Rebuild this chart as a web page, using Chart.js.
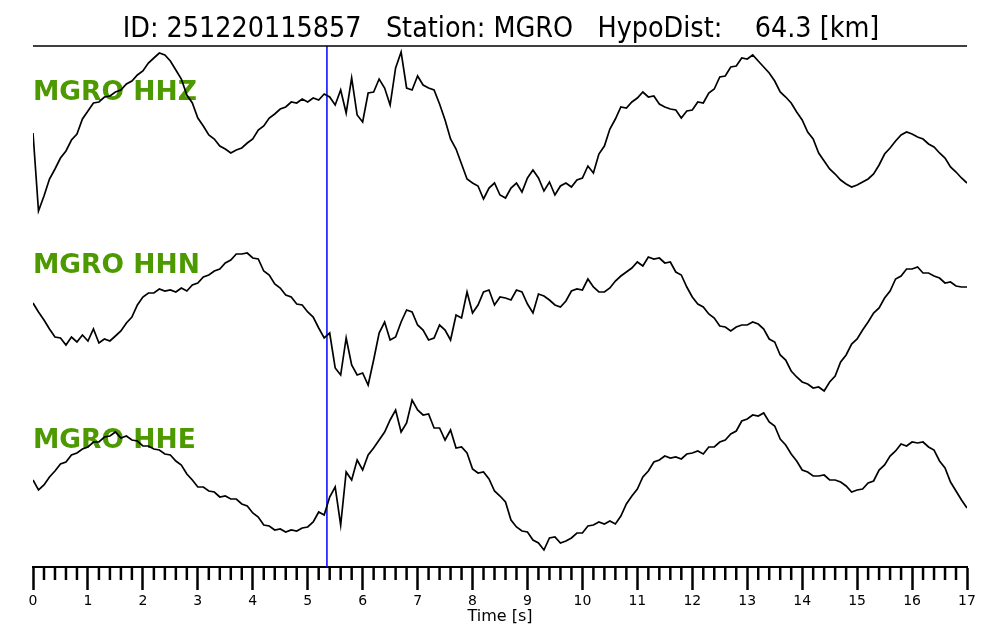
<!DOCTYPE html>
<html>
<head>
<meta charset="utf-8">
<script src="https://cdn.jsdelivr.net/npm/chart.js@4.4.0/dist/chart.umd.min.js"></script>
<style>
  html, body { margin: 0; padding: 0; background: #fff; }
  #wrap { width: 1000px; height: 640px; }
</style>
</head>
<body>
<div id="wrap"><canvas id="seis" width="1000" height="640"></canvas></div>
<script>
// ── Record header ─────────────────────────────────────────────────────────────
const EVENT_ID = '251220115857';
const STATION = 'MGRO';
const HYPO_DIST_KM = 64.3;
const PICK_TIME = 5.35;          // P pick [s]
const SAMPLE_DT = 0.1;           // s between samples below
const T_MAX = 17;

// ── Traces (relative amplitude, up positive) ─────────────────────────────────
const CHANNELS = ['HHZ', 'HHN', 'HHE'];

const HHZ = [
  0, -78, -63, -46, -36, -25, -18, -7, -1, 14,
  22, 30, 31, 36, 37, 41, 43, 49, 52, 58,
  62, 70, 75, 80, 78, 72, 63, 54, 38, 30,
  15, 7, -2, -6, -13, -16, -20, -17, -15, -10,
  -6, 3, 7, 15, 19, 24, 26, 31, 30, 34,
  31, 35, 33, 39, 36, 28, 43, 20, 55, 18,
  11, 40, 41, 54, 45, 28, 65, 81, 45, 43,
  57, 48, 45, 43, 29, 13, -6, -16, -31, -46,
  -50, -53, -66, -55, -50, -62, -65, -55, -50, -59,
  -45, -37, -45, -58, -49, -62, -53, -50, -54, -47,
  -45, -33, -40, -21, -13, 4, 14, 26, 25, 31,
  35, 41, 36, 37, 29, 26, 24, 23, 15, 22,
  23, 31, 30, 40, 44, 56, 57, 66, 67, 75,
  74, 78, 72, 66, 60, 52, 41, 36, 30, 21,
  13, 1, -6, -20, -28, -36, -41, -47, -51, -54,
  -52, -49, -46, -41, -32, -21, -15, -8, -2, 1,
  -1, -4, -6, -11, -14, -20, -25, -34, -39, -45,
  -50
];

const HHN = [
  17, 8, 0, -9, -17, -18, -25, -17, -22, -15,
  -21, -9, -23, -19, -21, -16, -11, -3, 3, 15,
  23, 27, 27, 31, 29, 30, 28, 32, 29, 35,
  37, 43, 45, 49, 51, 57, 60, 66, 66, 67,
  62, 61, 49, 45, 36, 32, 25, 23, 16, 15,
  8, 3, -8, -18, -13, -48, -55, -18, -45, -55,
  -53, -65, -40, -13, -2, -20, -17, -2, 10, 8,
  -5, -10, -20, -18, -5, -10, -20, 5, 2, 28,
  7, 15, 28, 30, 15, 23, 22, 20, 30, 28,
  16, 7, 26, 24, 20, 15, 13, 19, 29, 31,
  30, 41, 33, 28, 28, 32, 39, 44, 48, 52,
  58, 54, 63, 61, 62, 57, 58, 48, 45, 33,
  23, 16, 13, 6, 2, -6, -7, -11, -7, -5,
  -5, -2, -4, -9, -19, -22, -35, -40, -51, -57,
  -62, -64, -68, -67, -71, -62, -56, -42, -35, -24,
  -19, -10, -2, 7, 12, 22, 29, 41, 44, 51,
  51, 53, 47, 47, 44, 42, 37, 38, 34, 33,
  33
];

const HHE = [
  -8, -18, -13, -5, 1, 8, 10, 17, 19, 23,
  25, 30, 30, 35, 36, 40, 34, 36, 32, 31,
  26, 26, 23, 22, 18, 17, 11, 7, -2, -8,
  -15, -15, -19, -20, -25, -24, -27, -27, -32, -34,
  -41, -45, -53, -54, -58, -57, -60, -58, -59, -56,
  -55, -50, -40, -43, -25, -15, -53, 0, -8, 12,
  2, 17, 24, 32, 40, 52, 62, 40, 49, 72,
  62, 57, 58, 44, 44, 32, 42, 24, 25, 19,
  3, -1, 0, -7, -19, -24, -30, -48, -55, -59,
  -60, -68, -71, -78, -66, -65, -71, -69, -66, -61,
  -61, -54, -53, -50, -52, -49, -52, -44, -32, -24,
  -17, -5, 1, 10, 12, 16, 14, 15, 13, 18,
  19, 21, 18, 25, 25, 30, 32, 38, 41, 51,
  53, 57, 56, 59, 50, 46, 33, 27, 18, 11,
  2, 0, -4, -4, -3, -8, -8, -10, -14, -20,
  -18, -17, -11, -9, 2, 7, 16, 21, 28, 26,
  30, 29, 30, 25, 22, 11, 4, -10, -19, -28,
  -36
];

// ── Layout / style ────────────────────────────────────────────────────────────
const TRACE_OFFSETS = [434, 247, 95];     // baseline of each trace on the stacked y axis
const LABEL_BASELINES = [467, 294, 119];  // label baselines, y-axis units
const Y_SPAN = 521;
const LABEL_COLOR = '#4c9900';
const PICK_COLOR = '#0000ff';
const FONT = '"DejaVu Sans", sans-serif';
const TITLE_FONT = '"DejaVu Sans Condensed", "DejaVu Sans", sans-serif';
const TITLE_WIDTH = 758;

function toPoints(values, offset) {
  return values.map((v, i) => ({ x: +(i * SAMPLE_DT).toFixed(2), y: v + offset }));
}

const seismoDecor = {
  id: 'seismoDecor',
  beforeDatasetsDraw(chart) {
    const { ctx, chartArea: a, scales: { x, y } } = chart;
    ctx.save();
    ctx.fillStyle = LABEL_COLOR;
    ctx.font = 'bold 26.5px ' + FONT;
    ctx.textAlign = 'left';
    ctx.textBaseline = 'alphabetic';
    CHANNELS.forEach((ch, i) => {
      ctx.fillText(STATION + ' ' + ch, a.left, y.getPixelForValue(LABEL_BASELINES[i]));
    });
    // P pick
    const px = x.getPixelForValue(PICK_TIME);
    ctx.strokeStyle = PICK_COLOR;
    ctx.lineWidth = 1.5;
    ctx.beginPath();
    ctx.moveTo(px, a.top);
    ctx.lineTo(px, a.bottom);
    ctx.stroke();
    ctx.restore();
  },
  afterDraw(chart) {
    const { ctx, chartArea: a, scales: { x } } = chart;
    ctx.save();
    // header
    const title = `ID: ${EVENT_ID}   Station: ${STATION}   HypoDist:    ${HYPO_DIST_KM.toFixed(1)} [km]`;
    ctx.fillStyle = '#000';
    ctx.font = '28px ' + TITLE_FONT;
    const size = 28 * TITLE_WIDTH / ctx.measureText(title).width;
    ctx.font = size.toFixed(1) + 'px ' + TITLE_FONT;
    ctx.textAlign = 'center';
    ctx.textBaseline = 'alphabetic';
    ctx.fillText(title, 501, 37);
    ctx.strokeStyle = '#000';
    ctx.lineWidth = 1.5;
    ctx.beginPath();
    ctx.moveTo(a.left, a.top);
    ctx.lineTo(a.right, a.top);
    ctx.stroke();
    // minor ticks every 0.2 s
    ctx.lineWidth = 2.5;
    for (let k = 0; k <= T_MAX * 5; k++) {
      if (k % 5 === 0) continue;
      const tx = x.getPixelForValue(k * 0.2);
      ctx.beginPath();
      ctx.moveTo(tx, a.bottom);
      ctx.lineTo(tx, a.bottom + 13);
      ctx.stroke();
    }
    // axis title
    ctx.font = '16px ' + FONT;
    ctx.textBaseline = 'middle';
    ctx.fillText('Time [s]', (a.left + a.right) / 2, 617);
    ctx.restore();
  }
};

new Chart(document.getElementById('seis'), {
  type: 'line',
  data: {
    datasets: [HHZ, HHN, HHE].map((vals, i) => ({
      label: STATION + ' ' + CHANNELS[i],
      data: toPoints(vals, TRACE_OFFSETS[i]),
      borderColor: '#000',
      borderWidth: 1.7,
      pointRadius: 0,
      tension: 0,
      fill: false,
    })),
  },
  options: {
    responsive: false,
    devicePixelRatio: 1,
    animation: false,
    layout: { padding: { left: 33, right: 33, top: 46, bottom: 0 } },
    plugins: { legend: { display: false }, tooltip: { enabled: false }, title: { display: false } },
    scales: {
      x: {
        type: 'linear',
        min: 0,
        max: T_MAX,
        afterFit: (s) => { s.height = 73; },
        ticks: {
          stepSize: 1,
          autoSkip: false,
          maxRotation: 0,
          padding: 3,
          color: '#000',
          font: { family: FONT, size: 14 },
        },
        grid: { drawOnChartArea: false, drawTicks: true, tickLength: 23, tickWidth: 2.5, tickColor: '#000' },
        border: { display: true, color: '#000', width: 2 },
      },
      y: { display: false, min: 0, max: Y_SPAN },
    },
  },
  plugins: [seismoDecor],
});
</script>
</body>
</html>
